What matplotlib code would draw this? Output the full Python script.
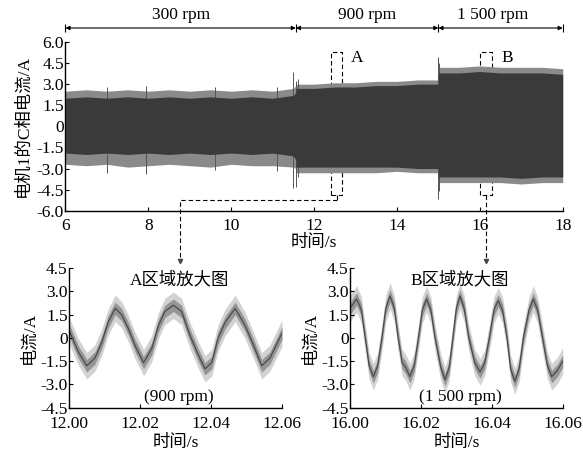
import matplotlib
matplotlib.use("Agg")
import matplotlib.pyplot as plt
import matplotlib.transforms as mtransforms
import numpy as np

plt.rcParams['font.family'] = ['Liberation Serif', 'Noto Sans CJK SC']
plt.rcParams['axes.unicode_minus'] = False
plt.rcParams['font.size'] = 12.5

# ---- full record: envelope of the phase-C current of motor 1 ----
t_env = [6.0, 6.5, 7.0, 7.5, 8.0, 8.5, 9.0, 9.5, 10.0, 10.5, 11.0, 11.5, 11.56,
         11.56, 12.0, 12.5, 13.0, 13.5, 14.0, 14.5, 15.0,
         15.0, 15.5, 16.0, 16.5, 17.0, 17.5, 18.0]
outer_hi = [2.5, 2.6, 2.5, 2.6, 2.5, 2.6, 2.5, 2.6, 2.5, 2.6, 2.5, 2.7, 2.9,
            3.0, 3.0, 3.1, 3.1, 3.2, 3.2, 3.3, 3.3,
            4.2, 4.2, 4.3, 4.2, 4.2, 4.2, 4.1]
outer_lo = [-2.7, -2.8, -2.7, -2.9, -2.8, -2.7, -2.8, -2.9, -2.7, -2.8, -2.8, -2.9, -3.0,
            -3.3, -3.3, -3.3, -3.3, -3.3, -3.2, -3.3, -3.3,
            -4.0, -4.0, -4.0, -4.0, -4.1, -4.0, -4.0]
core_hi = [2.0, 2.1, 2.0, 2.1, 2.0, 2.1, 2.0, 2.1, 2.0, 2.1, 2.0, 2.2, 2.4,
           2.7, 2.7, 2.8, 2.8, 2.9, 2.9, 3.0, 3.0,
           3.8, 3.8, 3.9, 3.8, 3.8, 3.8, 3.7]
core_lo = [-1.9, -2.0, -1.9, -2.0, -1.9, -2.0, -1.9, -2.0, -1.9, -2.0, -1.9, -2.1, -2.4,
           -2.9, -2.9, -2.9, -2.9, -2.9, -2.9, -3.0, -3.0,
           -3.6, -3.6, -3.6, -3.6, -3.7, -3.6, -3.6]
spike_t = [7.0, 7.95, 9.6, 11.1, 11.5, 11.56, 11.6, 15.0, 15.02]
spike_lo = [-3.3, -3.4, -3.1, -3.2, -4.4, -4.3, -3.6, -5.2, -4.6]
spike_hi = [2.8, 2.9, 2.8, 2.8, 3.9, 3.2, 3.4, 4.9, 4.5]

speed_labels = ['300 rpm', '900 rpm', '1 500 rpm']
speed_bounds = [6.0, 11.56, 15.0, 18.0]

# ---- zoomed windows ----
tA = [12.0000, 12.0026, 12.0050, 12.0073, 12.0092, 12.0110, 12.0130, 12.0148,
      12.0167, 12.0186, 12.0210, 12.0233, 12.0252, 12.0270, 12.0294, 12.0317,
      12.0340, 12.0364, 12.0383, 12.0402, 12.0420, 12.0440, 12.0468, 12.0496,
      12.0520, 12.0543, 12.0566, 12.0600]
vA = [0.5, -0.9, -1.8, -1.3, -0.3, 1.0, 1.9, 1.5,
      0.6, -0.5, -1.6, -0.7, 0.8, 1.7, 2.1, 1.7,
      0.2, -1.1, -2.0, -1.6, 0.0, 1.0, 1.9, 0.8,
      -0.5, -1.8, -1.3, 0.3]

tB_ms = [0.0, 1.9, 3.2, 4.3, 5.4, 6.6, 7.8, 9.0, 10.1, 11.3, 12.5, 13.6, 14.7,
         15.7, 16.9, 18.1, 19.3, 20.4, 21.6, 22.8, 24.0, 25.6, 26.8, 28.0, 29.0,
         30.0, 31.0, 32.2, 33.5, 35.2, 36.7, 38.0, 39.3, 40.6, 41.8, 43.0, 44.3,
         45.3, 46.5, 47.7, 48.9, 50.5, 51.7, 52.9, 54.3, 55.7, 56.9, 58.5, 60.0]
vB = [1.9, 2.5, 1.8, 0.0, -1.8, -2.5, -1.8, 0.0, 1.9, 2.7, 1.9, 0.0, -1.6,
      -1.9, -2.5, -1.8, 0.0, 1.8, 2.5, 1.8, 0.0, -1.9, -2.7, -1.9, 0.0,
      1.9, 2.7, 1.9, 0.0, -1.6, -2.2, -1.6, 0.0, 1.8, 2.4, 1.8, 0.0,
      -2.0, -2.8, -2.0, 0.0, 1.8, 2.5, 1.8, 0.0, -1.8, -2.5, -2.1, -1.5]
tB = [16.0 + m / 1000.0 for m in tB_ms]

main_yticks = [-6.0, -4.5, -3.0, -1.5, 0, 1.5, 3.0, 4.5, 6.0]
main_yticklabels = ['-6.0', '-4.5', '-3.0', '-1.5', '0', '1.5', '3.0', '4.5', '6.0']
zoom_yticks = [-4.5, -3.0, -1.5, 0, 1.5, 3.0, 4.5]
zoom_yticklabels = ['-4.5', '-3.0', '-1.5', '0', '1.5', '3.0', '4.5']

fig = plt.figure(figsize=(5.83, 4.55), dpi=100)


def style_axes(ax, xpad=2):
    for s in ('top', 'right'):
        ax.spines[s].set_visible(False)
    for s in ('left', 'bottom'):
        ax.spines[s].set_linewidth(1.0)
    ax.tick_params(direction='in', length=3, width=0.8, pad=1)
    ax.tick_params(axis='x', pad=xpad)


# ---- main axes ----
ax = fig.add_axes([0.1123, 0.5369, 0.8529, 0.3708])
style_axes(ax, xpad=5)
ax.fill_between(t_env, outer_lo, outer_hi, color='#8a8a8a', lw=0, zorder=2)
ax.fill_between(t_env, core_lo, core_hi, color='#3a3a3a', lw=0, zorder=3)
ax.vlines(spike_t, spike_lo, spike_hi, color='#555555', lw=0.7, zorder=2)
ax.set_xlim(6, 18)
ax.set_ylim(-6, 6)
ax.set_xticks([6, 8, 10, 12, 14, 16, 18])
ax.set_yticks(main_yticks)
ax.set_yticklabels(main_yticklabels)
ax.set_xlabel('时间/s', labelpad=1)
ax.set_ylabel('电机1的C相电流/A', labelpad=4)

# speed segments above the record
trans = mtransforms.blended_transform_factory(ax.transData, ax.transAxes)
for i, lab in enumerate(speed_labels):
    a, b = speed_bounds[i], speed_bounds[i + 1]
    ax.annotate('', xy=(b, 1.083), xytext=(a, 1.083), xycoords=trans, textcoords=trans,
                arrowprops=dict(arrowstyle='<|-|>', lw=0.8, color='black',
                                shrinkA=0, shrinkB=0, mutation_scale=6),
                annotation_clip=False)
    ax.text((a + b) / 2 - (0.2 if i == 2 else 0), 1.16, lab, transform=trans,
            ha='center', va='center')
ax.plot(speed_bounds, [1.083] * len(speed_bounds), ls='none', marker='|',
        ms=6, mew=0.8, color='black', transform=trans, clip_on=False)

# zoom boxes and leaders
box_kw = dict(color='black', lw=0.8, ls=(0, (4, 2.5)), zorder=1)
boxA = (12.41, 12.68)
boxB = (16.00, 16.29)
box_y = (-4.88, 5.27)
for (x0, x1) in (boxA, boxB):
    ax.plot([x0, x0, x1, x1, x0], [box_y[0], box_y[1], box_y[1], box_y[0], box_y[0]], **box_kw)
ax.text(13.03, 4.84, 'A', ha='center', va='center')
ax.text(16.65, 4.84, 'B', ha='center', va='center')

lead_kw = dict(color='black', lw=0.8, ls=(0, (4, 2.5)), clip_on=False, zorder=1)
cA = (boxA[0] + boxA[1]) / 2
cB = (boxB[0] + boxB[1]) / 2
ax.plot([cA, cA], [box_y[0], -5.24], **lead_kw)
ax.plot([cA, 8.76, 8.76], [-5.24, -5.24, -9.5], **lead_kw)
ax.plot([cB, cB], [box_y[0], -9.5], **lead_kw)
ax.plot([8.76, cB], [-9.55, -9.55], ls='none', marker='v', ms=3, color='#444444',
        clip_on=False)


def zoom_panel(rect, t, v, title, note, xticks, xticklabels):
    axz = fig.add_axes(rect)
    style_axes(axz, xpad=6)
    v = np.asarray(v)
    axz.fill_between(t, v - 0.85, v + 0.85, color='#d2d2d2', lw=0)
    axz.fill_between(t, v - 0.4, v + 0.4, color='#959595', lw=0)
    axz.plot(t, v, color='#4a4a4a', lw=0.9)
    axz.set_xlim(xticks[0], xticks[-1])
    axz.set_ylim(-4.5, 4.5)
    axz.set_xticks(xticks)
    axz.set_xticklabels(xticklabels)
    axz.set_yticks(zoom_yticks)
    axz.set_yticklabels(zoom_yticklabels)
    axz.set_xlabel('时间/s', labelpad=2)
    axz.set_ylabel('电流/A', labelpad=2)
    xm = xticks[0] + 0.031
    axz.text(xm, 3.73, title, ha='center', va='center')
    axz.text(xm, -3.81, note, ha='center', va='center')
    return axz


zoom_panel([0.1184, 0.1040, 0.3653, 0.3070], tA, vA, 'A区域放大图', '(900 rpm)',
           [12.00, 12.02, 12.04, 12.06], ['12.00', '12.02', '12.04', '12.06'])
zoom_panel([0.6003, 0.1040, 0.3649, 0.3070], tB, vB, 'B区域放大图', '(1 500 rpm)',
           [16.00, 16.02, 16.04, 16.06], ['16.00', '16.02', '16.04', '16.06'])

fig.savefig('out.png', dpi=100)
